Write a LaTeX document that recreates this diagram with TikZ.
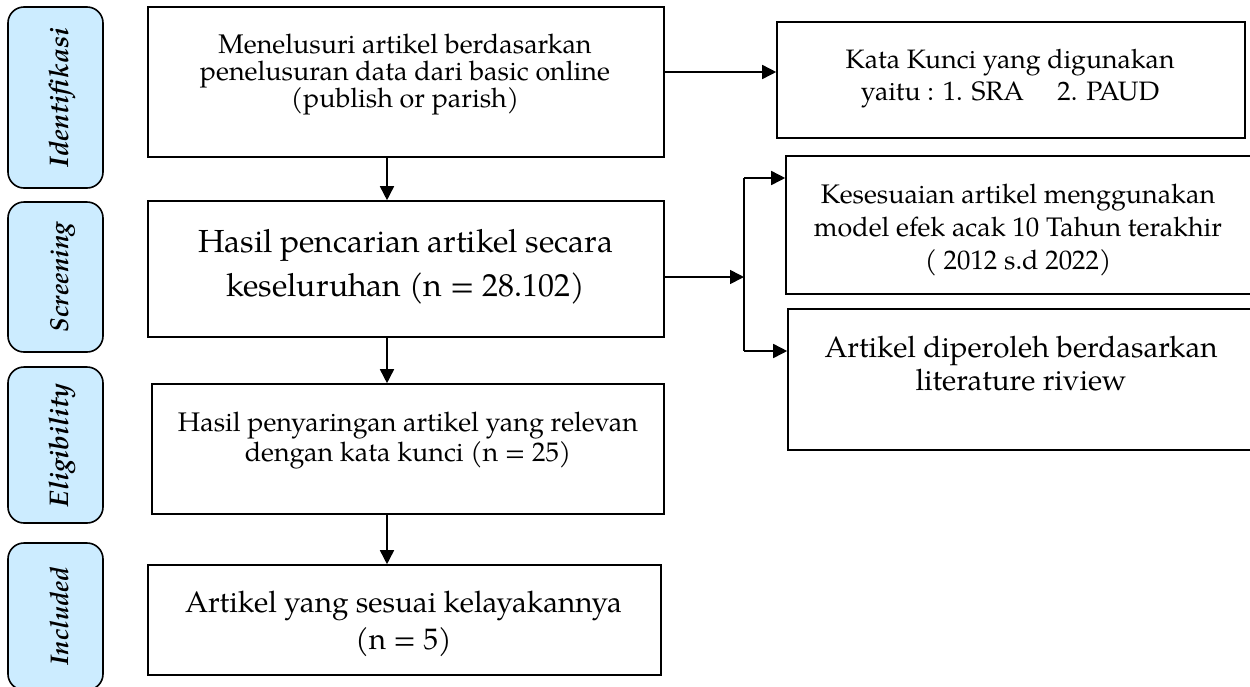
\documentclass[tikz,border=0pt]{standalone}
\usepackage{fontspec}
\usepackage{graphicx}
\setmainfont{TeX Gyre Pagella}
\usetikzlibrary{arrows.meta}
\definecolor{sideblue}{RGB}{204,236,255}
% multi-line centred block whose baseline is the first line's baseline
\newcommand{\mlt}[3]{{\fontsize{#1}{#2}\selectfont\lineskiplimit=-100pt\relax
  \vtop{\halign{\hfil##\hfil\cr#3\crcr}}}}
\newcommand{\sidelab}[2]{\resizebox{#1}{!}{\fontsize{28}{30}\selectfont\bfseries\itshape #2}}
\tikzset{
  side/.style={draw=black, line width=1.6pt, fill=sideblue, rounded corners=16pt, inner sep=0pt},
  sidetext/.style={rotate=90, anchor=base, inner sep=0pt},
  box/.style={draw=black, line width=1.6pt, inner sep=0pt},
  txt/.style={anchor=base, inner sep=0pt},
  arr/.style={line width=1.6pt, -{Triangle[length=14pt,width=14pt]}},
  ln/.style={line width=1.6pt}
}
\begin{document}
\begin{tikzpicture}[x=1pt,y=-1pt]
\clip (0,0) rectangle (1250,686);
\fill[white] (0,0) rectangle (1250,686);

% side labels
\draw[side] (8,7) rectangle (103,188);
\draw[side] (8,202) rectangle (103,352);
\draw[side] (8,367) rectangle (103,523);
\draw[side] (8,543) rectangle (103,690);
\node[sidetext] (s1) at (68,97.5) {\sidelab{139pt}{Identifikasi}};
\node[sidetext] (s2) at (68,277) {\sidelab{110pt}{Screening}};
\node[sidetext] (s3) at (68,445) {\sidelab{124pt}{Eligibility}};
\node[sidetext] (s4) at (68,616) {\sidelab{98pt}{Included}};

% main boxes
\node[box, minimum width=516pt, minimum height=150pt] (b1) at (406,82) {};
\node[box, minimum width=516pt, minimum height=136pt] (b2) at (406,269) {};
\node[box, minimum width=512pt, minimum height=130pt] (b3) at (408,449) {};
\node[box, minimum width=513pt, minimum height=110pt] (b4) at (404.5,620) {};

\node[txt] (t1) at (405,53.5) {\resizebox{410pt}{!}{\mlt{26.8}{27}
  {Menelusuri artikel berdasarkan\cr penelusuran data dari basic online\cr (publish or parish)}}};
\node[txt] (t2) at (405.5,252) {\resizebox{415pt}{!}{\mlt{32}{45}
  {Hasil pencarian artikel secara\cr keseluruhan (n = 28.102)}}};
\node[txt] (t3) at (408,431.5) {\resizebox{460pt}{!}{\mlt{27}{30}
  {Hasil penyaringan artikel yang relevan\cr dengan kata kunci (n = 25)}}};
\node[txt] (t4) at (403.5,612.5) {\resizebox{437pt}{!}{\mlt{29}{36}
  {Artikel yang sesuai kelayakannya\cr (n = 5)}}};

% right boxes
\node[box, minimum width=468pt, minimum height=116pt] (r1) at (1011,80) {};
\node[box, minimum width=466pt, minimum height=138pt] (r2) at (1019,225) {};
\node[box, minimum width=464pt, minimum height=141pt] (r3) at (1020,379.5) {};

\node[txt] (u1) at (1010,68) {\resizebox{329pt}{!}{\mlt{27}{33}
  {Kata Kunci yang digunakan\cr yaitu : 1. SRA \quad 2. PAUD}}};
\node[txt] (u2) at (1018,203) {\resizebox{408pt}{!}{\mlt{26.8}{33}
  {Kesesuaian artikel menggunakan\cr model efek acak 10 Tahun terakhir\cr ( 2012 s.d 2022)}}};
\node[txt] (u3) at (1021,357.5) {\resizebox{393pt}{!}{\mlt{29.2}{33}
  {Artikel diperoleh berdasarkan\cr literature riview}}};

% connectors
\coordinate (ax) at (387,0);
\coordinate (ky) at (0,72);
\coordinate (sp) at (744,277);
\coordinate (spt) at (744,178);
\coordinate (spb) at (744,351);

\draw[arr] (b1.south -| ax) -- (b2.north -| ax);
\draw[arr] (b2.south -| ax) -- (b3.north -| ax);
\draw[arr] (b3.south -| ax) -- (b4.north -| ax);
\draw[arr] (b1.east |- ky) -- (r1.west |- ky);
\draw[arr] (b2.east |- sp) -- (sp);
\draw[ln] (spt) -- (spb);
\draw[arr] (spt) -- (r2.west |- spt);
\draw[arr] (spb) -- (r3.west |- spb);
\end{tikzpicture}
\end{document}
